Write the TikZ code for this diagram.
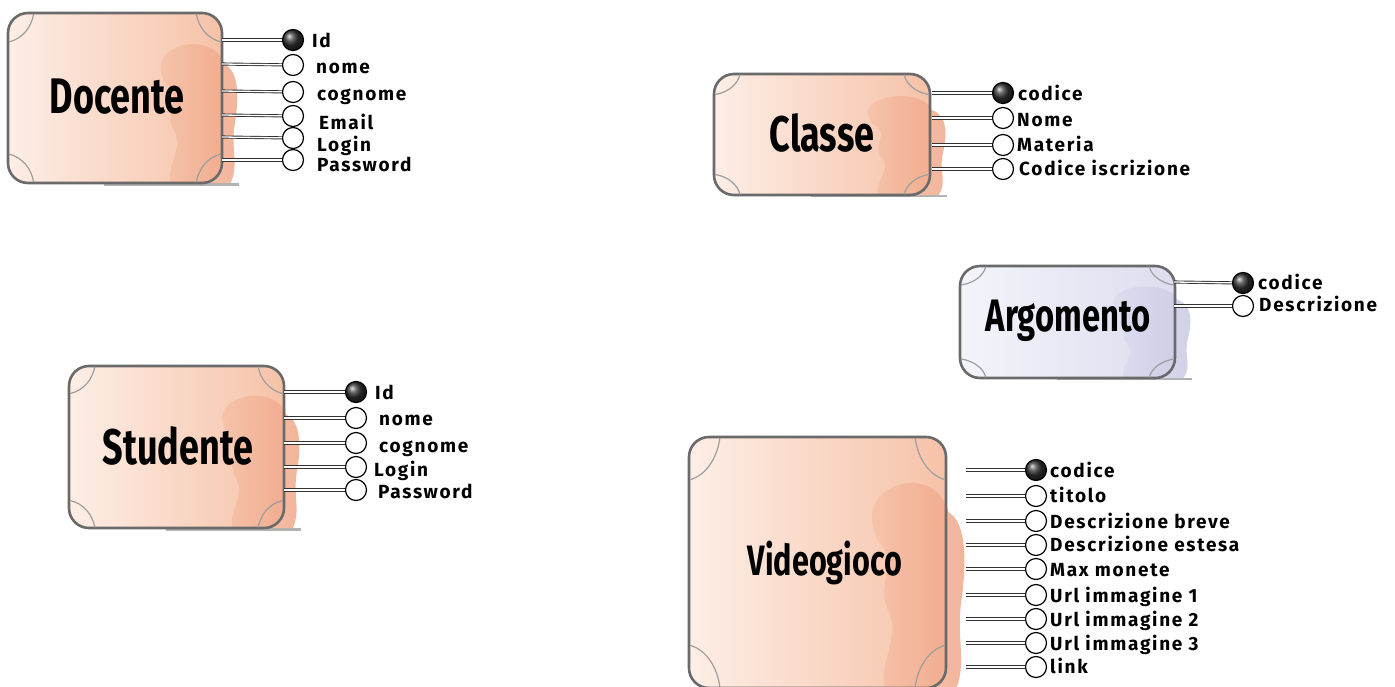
\documentclass[tikz,border=0pt]{standalone}
\usepackage{fontspec}
\setmainfont{Fira Sans}
\newfontfamily\attrfont{Fira Sans}[LetterSpace=9]
\usetikzlibrary{calc}
\definecolor{peachL}{HTML}{FDEEE6}
\definecolor{peachR}{HTML}{F6C2A8}
\definecolor{peachD}{HTML}{EFA282}
\definecolor{lilacL}{HTML}{F4F4FB}
\definecolor{lilacR}{HTML}{DDDDEF}
\definecolor{lilacD}{HTML}{C6C6E2}
\definecolor{frame}{HTML}{6A6A6A}
\tikzset{
  x=1pt, y=-1pt,
  attr/.style={circle, draw=black, line width=1.2pt, fill=white, minimum size=21pt, inner sep=0pt},
  keyattr/.style={circle, draw=black, line width=1.2pt, minimum size=21pt, inner sep=0pt, shading=ball, ball color=black!80},
  link/.style={draw=black!80, line width=0.9pt, double=white, double distance=1.3pt},
  lbl/.style={anchor=west, inner sep=0pt, yshift=-4pt, text height=0.72em, text depth=0.2em, font=\attrfont\bfseries\fontsize{19}{19}\selectfont},
  title/.style={font=\bfseries\fontsize{50}{50}\selectfont, xscale=0.72, inner sep=0pt},
  corner/.style={draw=frame!65, line width=1.2pt},
}
% #1 light colour, #2 right colour, #3 blob colour, #4..#7 bounds x1,y1,x2,y2
\newcommand\entitybody[7]{%
  \begin{scope}[shift={(#4,#5)}, xscale={(#6-#4)/100}, yscale={(#7-#5)/100}]
    \fill[black!30] (45,100) rectangle (108,101.6);
    \shade[left color=#1, right color=#2, rounded corners=20pt] (0,0) rectangle (100,100);
    \shade[left color=#2, right color=#3, opacity=0.8]
      (76,22) .. controls (85,15) and (98,18) .. (101,30)
      .. controls (108,34) and (108,50) .. (106,65)
      .. controls (104,80) and (108,90) .. (104,100) -- (76,100)
      .. controls (74,90) and (82,80) .. (78,70)
      .. controls (72,60) and (82,50) .. (74,42)
      .. controls (70,35) and (70,27) .. (76,22) -- cycle;
    \draw[frame, line width=2.6pt, rounded corners=20pt] (0,0) rectangle (100,100);
    \draw[corner] (0.5,17) .. controls (7,15) and (11,8) .. (12,0.5);
    \draw[corner] (99.5,17) .. controls (93,15) and (89,8) .. (88,0.5);
    \draw[corner] (0.5,83) .. controls (7,85) and (11,92) .. (12,99.5);
    \draw[corner] (99.5,83) .. controls (93,85) and (89,92) .. (88,99.5);
  \end{scope}}
% #1 entity, #2 box edge x, #3 circle x, #4 list i/line y/circle y/label x/label y/text/style
\newcommand\attrs[4]{%
  \foreach \i/\ly/\cy/\lx/\tyy/\t/\st in {#4}{%
    \coordinate (#1-s\i) at (#2,\ly);
    \node[\st] (#1-a\i) at (#3,\cy) {};
    \draw[link] (#1-s\i) -- (#1-a\i);
    \node[lbl] (#1-l\i) at (\lx,\tyy) {\t};
  }}
\begin{document}
\begin{tikzpicture}
\useasboundingbox[fill=white] (0,0) rectangle (1395,686);

% Docente
\entitybody{peachL}{peachR}{peachD}{8}{13}{222}{183}
\node[title] (docente) at (117,97) {Docente};
\attrs{doc}{222}{293}{1/40/40/312/41/Id/keyattr, 2/64/65/316/67/nome/attr,
  3/91/92/317/94/cognome/attr, 4/115/116/319/123/Email/attr,
  5/137/138/317/145/Login/attr, 6/160/160/317/165/Password/attr}

% Classe
\entitybody{peachL}{peachR}{peachD}{714}{74}{930}{195}
\node[title] (classe) at (822,133) {Classe};
\attrs{cla}{932}{1003}{1/93/93/1018/94/codice/keyattr, 2/118/118/1017/120/Nome/attr,
  3/145/145/1017/145/Materia/attr, 4/169/169/1019/169/Codice iscrizione/attr}

% Argomento
\entitybody{lilacL}{lilacR}{lilacD}{960}{266}{1175}{378}
\node[title, scale=0.91] (argomento) at (1068,321) {Argomento};
\attrs{arg}{1174}{1243}{1/282/283/1258/283/codice/keyattr, 2/306/306/1259/305/Descrizione/attr}

% Studente
\entitybody{peachL}{peachR}{peachD}{69}{366}{284}{528}
\node[title] (studente) at (178,446) {Studente};
\attrs{stu}{284}{356}{1/392/392/375/393/Id/keyattr, 2/418/418/379/419/nome/attr,
  3/443/443/379/446/cognome/attr, 4/467/467/374/470/Login/attr,
  5/490/490/378/492/Password/attr}

% Videogioco
\entitybody{peachL}{peachR}{peachD}{689}{437}{946}{688}
\node[title, scale=0.85] (videogioco) at (825,563) {Videogioco};
\attrs{vid}{966}{1036}{1/470/470/1050/471/codice/keyattr, 2/496/496/1050/496/titolo/attr,
  3/521/521/1050/522/Descrizione breve/attr, 4/545/545/1050/545/Descrizione estesa/attr,
  5/569/569/1050/570/Max monete/attr, 6/595/595/1050/596/Url immagine 1/attr,
  7/619/619/1050/620/Url immagine 2/attr, 8/643/643/1050/644/Url immagine 3/attr,
  9/667/667/1050/667/link/attr}
\end{tikzpicture}
\end{document}
